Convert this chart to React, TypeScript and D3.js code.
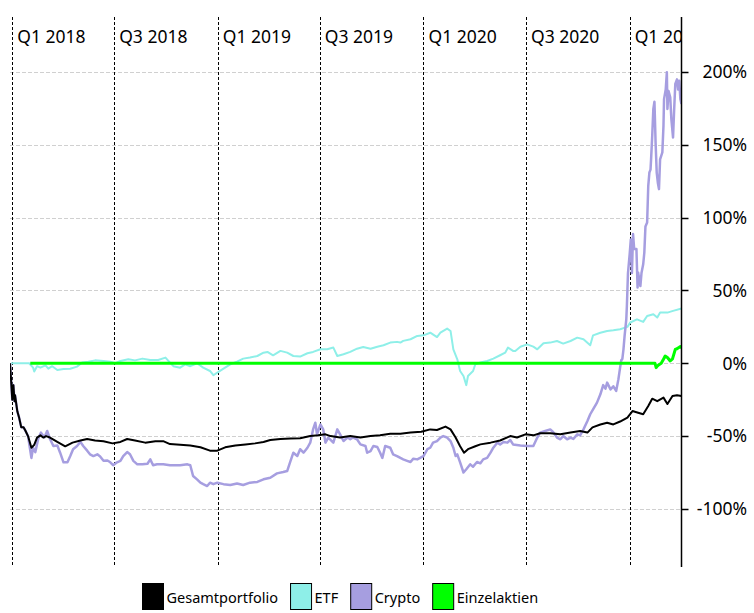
import React, { useEffect, useRef } from 'react';
import * as d3 from 'd3';

// days since 1 Jan 2018 -> change in %
const startDate = new Date(2018, 0, 1);

const gesamtportfolio: [number, number][] = [
  [-4, 0], [-2, -12], [0, -25], [2, -15], [4, -26], [5, -22], [9, -33], [12, -37], [16, -44], [20, -44],
  [23, -46], [28, -50], [34, -58], [39, -56], [44, -51], [50, -49.5], [55, -51], [60, -50], [67, -51],
  [80, -54], [94, -57], [107, -54.5], [121, -53], [133, -52], [147, -53], [162, -53.5], [178, -55],
  [192, -54], [204, -52], [218, -53], [236, -54.5], [254, -53.5], [268, -53.5], [280, -55.5], [298, -56],
  [316, -56.4], [334, -57.7], [351, -60], [364, -60], [378, -57.7], [396, -56.4], [414, -55.7], [431, -55],
  [446, -54], [458, -52.7], [476, -52], [494, -51.7], [511, -51.5], [529, -50], [543, -49.5], [556, -48.8],
  [565, -50], [582, -51], [600, -50], [618, -51], [636, -50], [653, -49.5], [671, -48.4], [689, -48.4],
  [707, -47.6], [726, -47], [742, -45.4], [754, -45.8], [769, -43.5], [778, -45.4], [787, -51], [795, -57],
  [802, -61.4], [809, -59], [822, -57], [831, -55.7], [849, -54.5], [866, -53], [884, -50], [896, -51],
  [911, -48.8], [925, -49.5], [937, -48], [955, -48], [973, -48.8], [991, -47.6], [1008, -46.5],
  [1021, -47.6], [1030, -44], [1044, -42], [1056, -40.8], [1067, -42], [1079, -40], [1092, -37.3],
  [1101, -32.8], [1111, -34], [1120, -35], [1129, -29.3], [1136, -24.3], [1145, -26], [1156, -23.6],
  [1163, -28], [1172, -22.5], [1180, -22], [1188, -22.5],
];

const etf: [number, number][] = [
  [-2, 0], [30, 0], [37, -3], [39, -5.7], [44, -2], [50, -3], [59, -1.4], [64, -3.7], [71, -2], [80, -4.6],
  [91, -4], [103, -3.7], [115, -2.3], [124, 0.5], [135, 1], [147, 2], [162, 1.6], [174, 1], [183, 0],
  [192, 1.6], [206, 2.7], [218, 2], [231, 3.2], [245, 2.3], [259, 2.3], [272, 3.9], [280, 0.5], [286, -2],
  [298, -3], [307, -0.7], [316, -2], [328, 0], [339, -3], [351, -5.3], [357, -8.2], [364, -6.4], [375, -3.7],
  [387, -0.7], [399, 1.1], [410, 3.2], [422, 3.9], [435, 5], [446, 7.3], [453, 7.8], [463, 5.5], [476, 8.5],
  [488, 7.3], [499, 5], [511, 4.6], [524, 6.9], [534, 7.8], [547, 9.6], [559, 9.6], [570, 10.8], [577, 5],
  [588, 6.2], [600, 7.8], [612, 10], [623, 11.2], [636, 10], [648, 11.4], [659, 12.4], [671, 14.2],
  [683, 14.7], [689, 14.2], [694, 15.4], [707, 16.5], [719, 18.8], [730, 19.2], [742, 21], [754, 18],
  [760, 21], [772, 23.8], [778, 22.2], [783, 9.6], [790, 2.7], [795, -5.3], [801, -8.7], [806, -15],
  [809, -8.7], [818, -5.3], [822, -0.7], [831, 0.5], [843, 1.6], [854, 3.2], [866, 5.5], [875, 7.3],
  [880, 10.8], [889, 8.5], [893, 8.5], [902, 11.4], [914, 13], [925, 11.4], [932, 9.6], [943, 13.7],
  [955, 14.2], [967, 15.3], [978, 13.5], [991, 15.3], [1003, 17.6], [1014, 16.5], [1026, 12.4], [1031, 19.2],
  [1044, 21], [1056, 22.2], [1067, 22.7], [1079, 23.4], [1092, 25], [1097, 28], [1109, 30.2], [1120, 28.4],
  [1127, 32.5], [1138, 33.7], [1145, 31.4], [1150, 34.8], [1163, 34.8], [1173, 36], [1188, 37.6],
];

const crypto: [number, number][] = [
  [-4, 0], [-2, -12], [0, -25], [2, -15], [4, -26], [5, -22], [9, -33], [12, -37], [16, -44], [20, -44],
  [23, -46], [28, -50], [34, -65], [37, -58], [41, -61], [46, -52], [51, -47.6], [57, -51], [62, -46.5],
  [67, -52], [73, -56.8], [80, -56.4], [85, -61.4], [91, -68], [98, -68], [103, -63.7], [108, -59],
  [115, -56.8], [121, -54], [126, -56.8], [133, -60], [138, -62.5], [144, -63.7], [151, -62.5], [156, -64],
  [162, -67], [169, -66.8], [174, -68], [179, -70], [186, -68], [192, -67], [197, -63.7], [204, -61],
  [209, -62.5], [215, -67], [222, -69.4], [231, -69.4], [240, -69], [245, -66], [250, -70], [257, -69.4],
  [268, -69.4], [280, -70], [298, -70], [311, -69.4], [316, -70], [321, -77.4], [328, -79.7], [334, -82],
  [339, -83], [346, -84.3], [351, -82], [357, -83], [364, -82], [375, -83], [387, -83.6], [399, -82.5],
  [410, -83.6], [422, -82], [435, -81.5], [446, -79.7], [458, -78.6], [470, -75.6], [481, -74.7], [488, -74],
  [494, -67], [499, -61.4], [506, -63.7], [511, -59], [517, -61.4], [524, -58], [529, -54.5], [534, -45.4],
  [538, -40.8], [541, -48.8], [547, -42], [552, -45.4], [556, -54.5], [561, -51], [570, -54.5], [577, -45.4],
  [582, -48.8], [588, -53.4], [595, -51], [600, -52.2], [605, -51], [612, -52.2], [618, -55.7], [627, -56.8],
  [630, -61.4], [636, -60.3], [641, -56.8], [648, -57.5], [653, -61.4], [657, -65], [662, -56.8], [671, -58],
  [676, -62.5], [683, -63.7], [689, -65], [694, -66], [701, -67], [707, -67.8], [712, -65.5], [719, -66],
  [724, -65], [730, -63.7], [737, -59], [742, -58], [747, -54.5], [754, -53.4], [760, -51], [765, -50],
  [772, -51], [778, -53.4], [783, -58], [787, -63.7], [790, -62.5], [795, -68], [801, -75], [806, -72.8],
  [813, -69.4], [818, -71], [825, -67.8], [831, -68.7], [836, -66], [843, -65], [849, -61.4], [854, -58],
  [861, -54.5], [866, -55.7], [872, -54], [879, -54.5], [884, -52.7], [889, -55.7], [902, -56.4], [914, -56.8],
  [925, -56.8], [932, -51], [937, -47.6], [946, -46.5], [955, -45.4], [960, -47.2], [967, -51], [973, -52.2],
  [978, -50], [985, -52.2], [991, -51], [996, -52], [1003, -48.8], [1008, -49.5], [1014, -45.4], [1021, -39.6],
  [1026, -35], [1031, -31.6], [1038, -27], [1044, -21.3], [1049, -15], [1053, -17.4], [1056, -13.3],
  [1062, -17.9], [1067, -15.8], [1072, -19], [1076, -11], [1079, -3], [1081, 2], [1083, 3], [1085, 9.6],
  [1087, 18.8], [1090, 30.2], [1091, 39], [1093, 62], [1096, 75], [1098, 85], [1100, 62], [1102, 88.7],
  [1104, 78.4], [1108, 78.4], [1110, 52], [1111, 62.3], [1115, 53], [1117, 62], [1120, 68], [1122, 76],
  [1124, 94], [1127, 96.7], [1129, 121.9], [1131, 131], [1133, 133], [1134, 140], [1136, 156], [1138, 174.6],
  [1140, 179.6], [1142, 151.6], [1144, 131], [1146, 124], [1148, 119.6], [1150, 140], [1152, 142.5],
  [1154, 144.8], [1156, 163], [1157, 181.4], [1160, 188], [1162, 199.8], [1163, 174.6], [1165, 187],
  [1168, 182.6], [1170, 167.7], [1173, 155], [1175, 174.6], [1177, 191.8], [1180, 195], [1182, 188],
  [1184, 194], [1186, 181.4], [1188, 178],
];

const einzelaktien: [number, number][] = [
  [32, 0], [1141, 0], [1143, -3], [1145, -2], [1148, -1], [1152, 0], [1155, 2], [1159, 5], [1163, 4],
  [1168, 1.6], [1172, 3], [1177, 9.6], [1180, 10], [1186, 11.5], [1188, 10.5],
];

const seriesNames = ['Gesamtportfolio', 'ETF', 'Crypto', 'Einzelaktien'];
const seriesColors = ['#000000', '#8eefe8', '#a69ee0', '#00ff00'];
const seriesWidths = [2, 2, 2.5, 3];
const drawOrder = [1, 2, 0, 3];
const yTicks = [-100, -50, 0, 50, 100, 150, 200];

const App = () => {
  const svgRef = useRef<SVGSVGElement>(null);

  useEffect(() => {
    if (!svgRef.current) return;
    const svg = d3.select(svgRef.current);
    svg.selectAll('*').remove();

    const left = 10;
    const right = 681.5;
    const top = 17;
    const bottom = 567;
    const font = "'Noto Sans', sans-serif";

    const x = d3.scaleTime()
      .domain([new Date(2017, 11, 28), new Date(2021, 3, 3)])
      .range([left, right]);
    const y = d3.scaleLinear().domain([-139.9, 237.8]).range([bottom, top]);

    svg.append('defs').append('clipPath').attr('id', 'plot-clip')
      .append('rect')
      .attr('x', left).attr('y', top)
      .attr('width', right - left).attr('height', bottom - top);

    // horizontal grid
    svg.append('g').selectAll('line')
      .data(yTicks)
      .enter().append('line')
      .attr('x1', left).attr('x2', right)
      .attr('y1', d => Math.round(y(d)) + 0.5).attr('y2', d => Math.round(y(d)) + 0.5)
      .attr('stroke', '#d0d0d0').attr('stroke-dasharray', '4,2');

    // half-year markers
    const halfYears = x.ticks(d3.timeMonth.every(6)!);
    const plot = svg.append('g').attr('clip-path', 'url(#plot-clip)');
    plot.selectAll('line.q')
      .data(halfYears)
      .enter().append('line')
      .attr('x1', d => Math.round(x(d)) + 0.5).attr('x2', d => Math.round(x(d)) + 0.5)
      .attr('y1', top).attr('y2', bottom)
      .attr('stroke', '#000').attr('stroke-dasharray', '3,2');
    plot.selectAll('text.q')
      .data(halfYears)
      .enter().append('text')
      .attr('x', d => x(d) + 5)
      .attr('y', 43)
      .attr('font-family', font).attr('font-size', 17.5).attr('fill', '#000')
      .text(d => `Q${Math.floor(d.getMonth() / 3) + 1} ${d.getFullYear()}`);

    // lines
    const line = d3.line<[number, number]>()
      .x(d => x(d3.timeDay.offset(startDate, d[0])))
      .y(d => y(d[1]));
    const series = [gesamtportfolio, etf, crypto, einzelaktien];
    drawOrder.forEach(i => {
      plot.append('path')
        .datum(series[i])
        .attr('d', line)
        .attr('fill', 'none')
        .attr('stroke', seriesColors[i])
        .attr('stroke-width', seriesWidths[i])
        .attr('stroke-linejoin', 'round');
    });

    // right axis
    const axis = svg.append('g');
    axis.append('line')
      .attr('x1', right).attr('x2', right).attr('y1', top).attr('y2', bottom)
      .attr('stroke', '#000').attr('stroke-width', 1.5);
    axis.selectAll('line.t')
      .data(yTicks)
      .enter().append('line')
      .attr('x1', right).attr('x2', right + 7)
      .attr('y1', d => Math.round(y(d)) + 0.5).attr('y2', d => Math.round(y(d)) + 0.5)
      .attr('stroke', '#000').attr('stroke-width', 1.5);
    axis.selectAll('text')
      .data(yTicks)
      .enter().append('text')
      .attr('x', 747)
      .attr('y', d => y(d))
      .attr('dy', '0.36em')
      .attr('text-anchor', 'end')
      .attr('font-family', font).attr('font-size', 17.5).attr('fill', '#000')
      .text(d => `${d}%`);

    // legend
    const legend = svg.append('g');
    let cx = 142;
    seriesNames.forEach((name, i) => {
      legend.append('rect')
        .attr('x', cx + 0.5).attr('y', 583.5)
        .attr('width', 21).attr('height', 26)
        .attr('fill', seriesColors[i]).attr('stroke', '#000');
      const t = legend.append('text')
        .attr('x', cx + 24.5).attr('y', 603)
        .attr('font-family', font).attr('font-size', 14.5).attr('fill', '#000')
        .text(name);
      const w = (t.node() as SVGTextElement).getComputedTextLength();
      cx += 24.5 + w + 12;
    });
  }, []);

  return (
    <svg
      ref={svgRef}
      width={754}
      height={613}
      style={{ position: 'absolute', left: 0, top: 0, background: '#fff' }}
    />
  );
};

export default App;
